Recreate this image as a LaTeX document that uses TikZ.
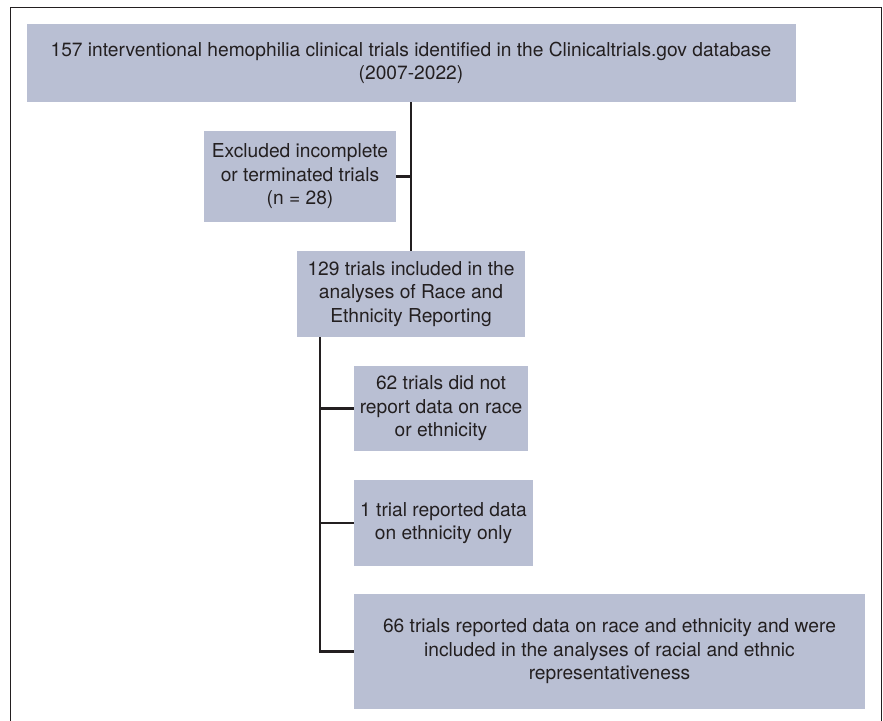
\documentclass[tikz,border=0pt]{standalone}
\usepackage{fontspec}
\setmainfont{TeX Gyre Heros}
\usetikzlibrary{positioning}
\definecolor{boxblue}{HTML}{B9BFD3}
\definecolor{inkgray}{HTML}{231F20}
\tikzset{
	flowbox/.style={fill=boxblue, text=inkgray, align=center, inner sep=0pt,
		font=\fontsize{19.2}{23.5}\selectfont},
	link/.style={draw=inkgray, line width=2.6pt}
}

\begin{document}
\begin{tikzpicture}[x=1pt, y=-1pt]
			\useasboundingbox (0,0) rectangle (883,720);
			% Outer frame
			\draw[inkgray, line width=0.8pt] (10,7.5) rectangle (881,730);
			% Identified trials
			\node[flowbox, minimum width=769pt, minimum height=78pt] (ident) at (411,63)
			{157 interventional hemophilia clinical trials identified in the Clinicaltrials.gov database\\(2007-2022)};
			% Excluded trials
			\node[flowbox, minimum width=192.5pt, minimum height=91pt] (excl) at (300,176.5)
			{Excluded incomplete\\or terminated trials\\(n = 28)};
			% Included trials
			\node[flowbox, minimum width=228pt, minimum height=86pt] (incl) at (411,294)
			{129 trials included in the\\analyses of Race and\\Ethnicity Reporting};
			% Reporting outcome boxes
			\node[flowbox, minimum width=174pt, minimum height=85pt] (noreport) at (441,408.5)
			{62 trials did not\\report data on race\\or ethnicity};
			\node[flowbox, minimum width=179pt, minimum height=86pt] (ethonly) at (443.5,523)
			{1 trial reported data\\on ethnicity only};
			\node[flowbox, minimum width=511pt, minimum height=115pt] (both) at (609.5,651.5)
			{66 trials reported data on race and ethnicity and were\\included in the analyses of racial and ethnic\\representativeness};
			% Connectors
			\draw[link] (ident.south) -- (incl.north);
			\draw[link] (excl.east) -- (excl.east -| ident.south);
			\coordinate (spine) at ([xshift=-91pt]incl.south);
			\draw[link] (spine) |- (both.west);
			\draw[link] (spine |- noreport.west) -- (noreport.west);
			\draw[link] (spine |- ethonly.west) -- (ethonly.west);
		\end{tikzpicture}
\end{document}
